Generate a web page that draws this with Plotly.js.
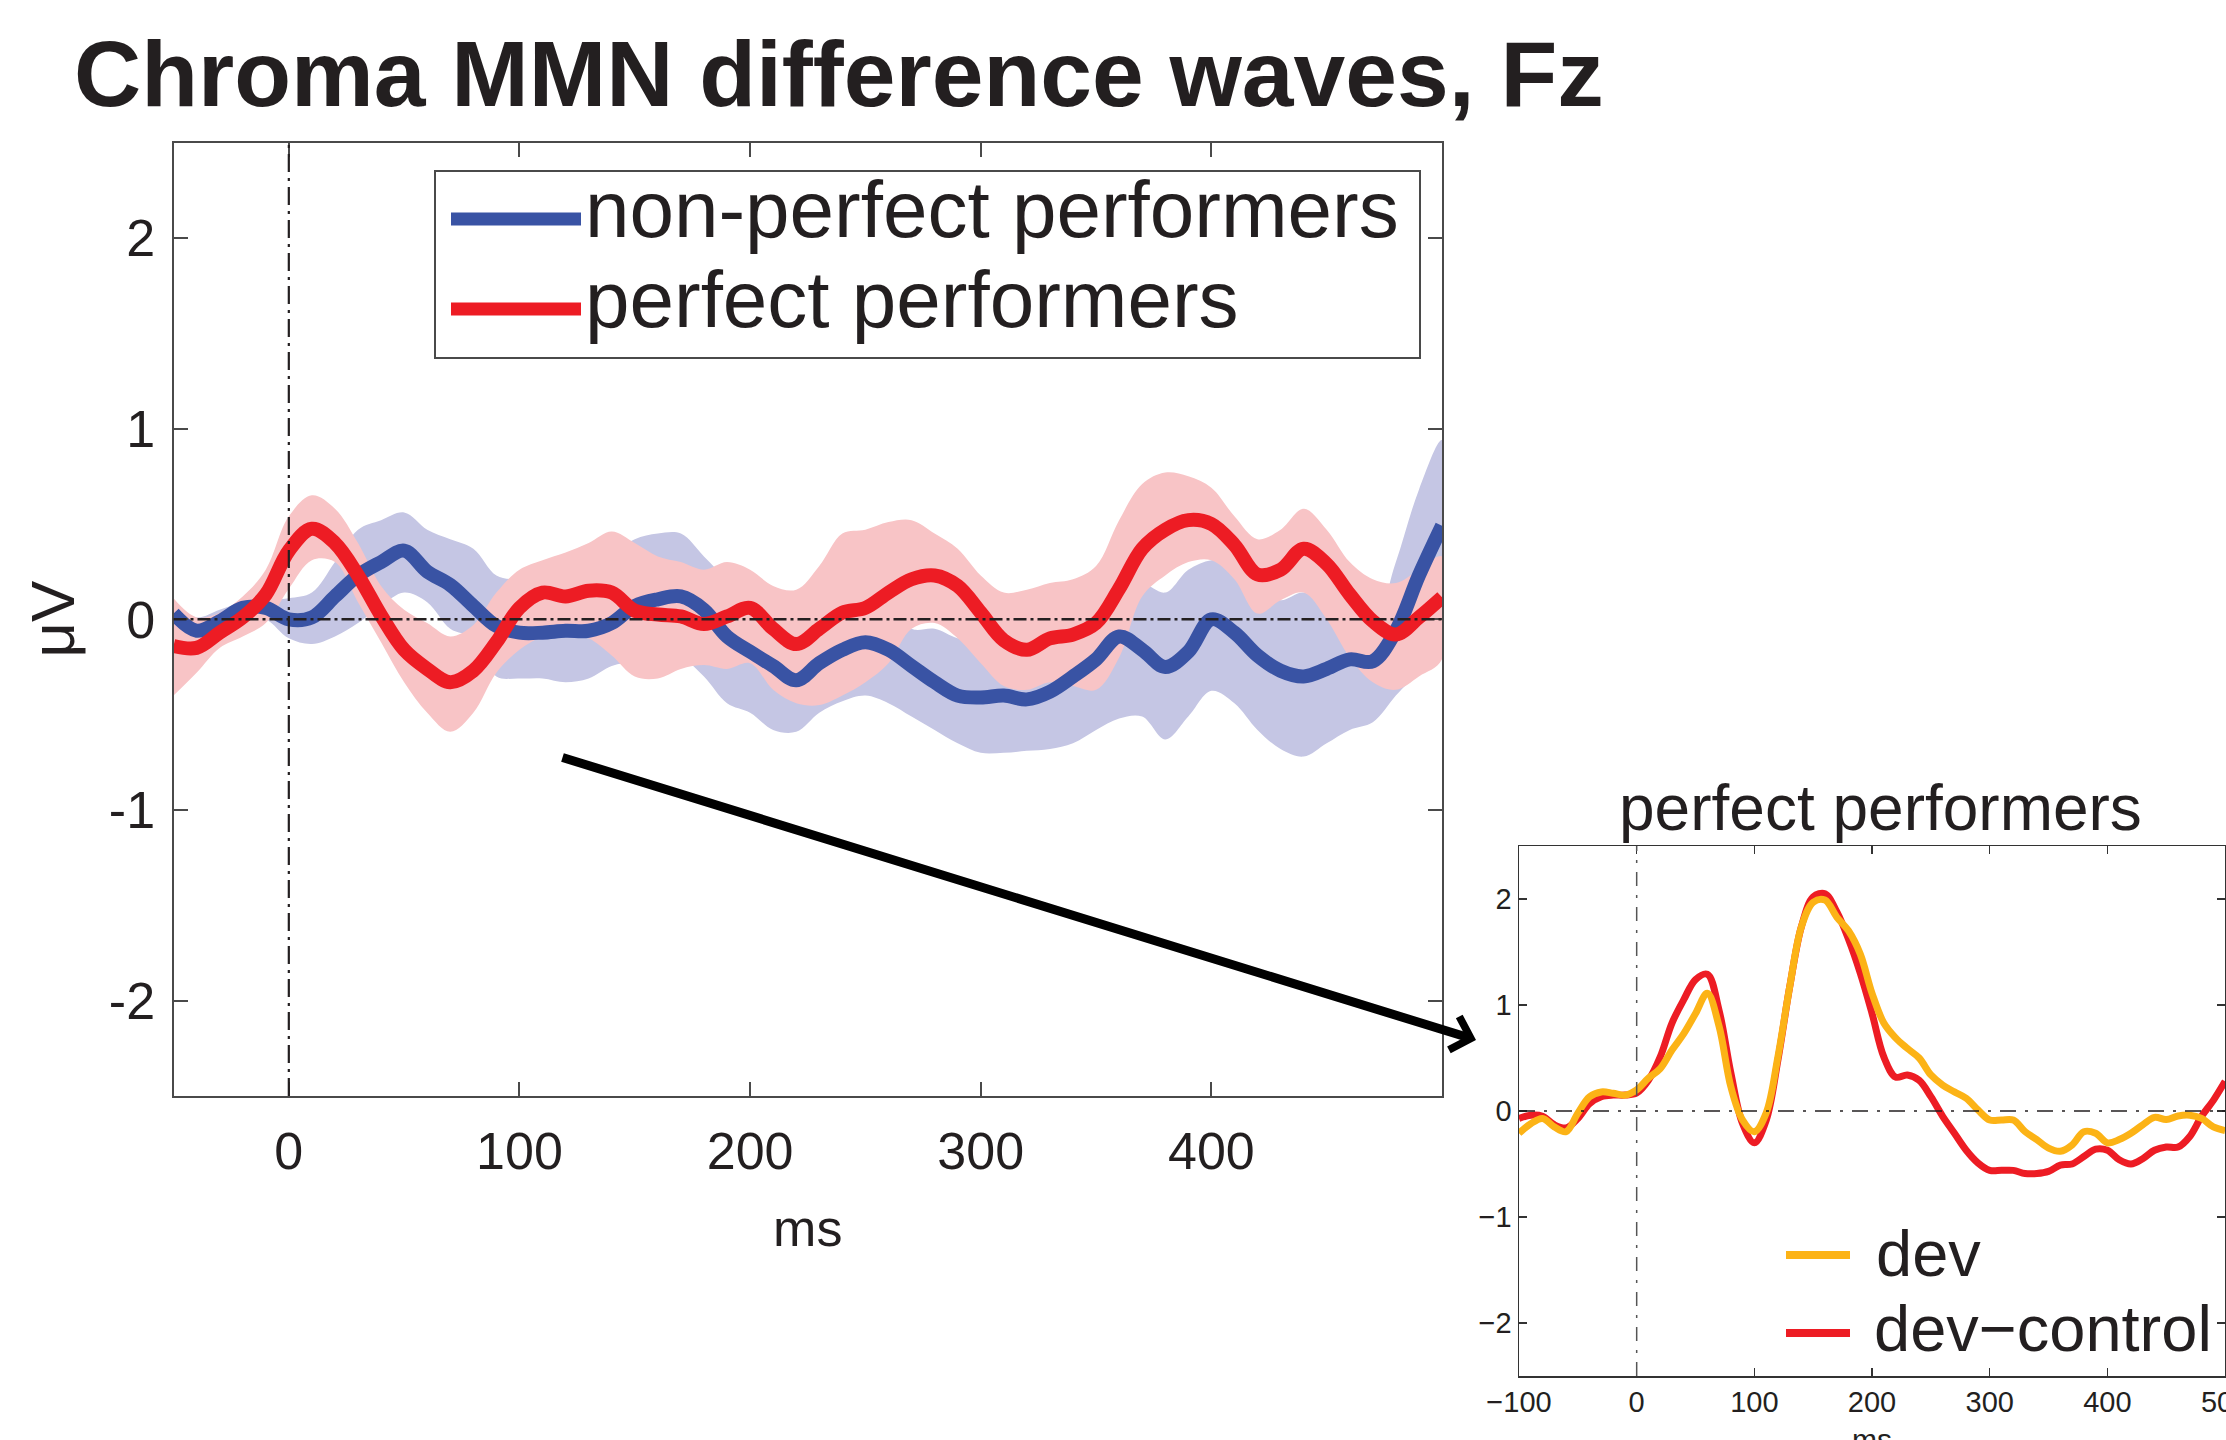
<!DOCTYPE html>
<html>
<head>
<meta charset="utf-8">
<script src="https://cdn.plot.ly/plotly-3.0.1.min.js"></script>
<style>html,body{margin:0;padding:0;background:#fff}#chart{width:2226px;height:1440px}</style>
</head>
<body>
<div id="chart"></div>
<script>
// ---------- main panel data (ms, µV) ----------
const timeMain = [-50,-40,-30,-20,-10,0,10,20,30,40,50,60,70,80,90,100,110,120,130,140,150,160,170,180,190,200,210,220,230,240,250,260,270,280,290,300,310,320,330,340,350,360,370,380,390,400,410,420,430,440,450,460,470,480,490,500];

const nonPerfectMean = [0.03,-0.06,-0.01,0.06,0.06,0.00,0.01,0.12,0.23,0.30,0.36,0.25,0.18,0.07,-0.035,-0.07,-0.07,-0.06,-0.06,-0.02,0.07,0.105,0.12,0.05,-0.09,-0.17,-0.245,-0.32,-0.23,-0.16,-0.12,-0.16,-0.245,-0.33,-0.40,-0.41,-0.40,-0.42,-0.38,-0.30,-0.21,-0.09,-0.16,-0.25,-0.17,0.00,-0.07,-0.19,-0.27,-0.30,-0.26,-0.21,-0.22,-0.06,0.23,0.49];
const nonPerfectUpper = [0.08,0.01,0.05,0.09,0.10,0.11,0.14,0.30,0.47,0.52,0.56,0.47,0.42,0.37,0.23,0.21,0.22,0.23,0.25,0.33,0.42,0.45,0.45,0.33,0.21,0.12,0.04,0.00,0.12,0.16,0.16,0.09,-0.05,-0.05,-0.10,-0.12,-0.13,-0.12,-0.06,0.00,0.09,0.175,0.19,0.14,0.26,0.31,0.30,0.16,0.10,0.14,0.05,-0.05,-0.03,0.30,0.68,0.94];
const nonPerfectLower = [-0.03,-0.10,-0.06,0.02,0.00,-0.10,-0.13,-0.09,-0.02,0.07,0.14,0.09,-0.05,-0.10,-0.30,-0.31,-0.31,-0.33,-0.31,-0.245,-0.22,-0.20,-0.20,-0.30,-0.44,-0.49,-0.58,-0.59,-0.49,-0.43,-0.40,-0.44,-0.51,-0.58,-0.65,-0.70,-0.70,-0.69,-0.68,-0.65,-0.58,-0.52,-0.51,-0.63,-0.51,-0.375,-0.44,-0.58,-0.68,-0.72,-0.65,-0.58,-0.54,-0.40,-0.26,0.02];

const perfectMean = [-0.14,-0.15,-0.07,0.01,0.13,0.36,0.475,0.40,0.23,0.02,-0.16,-0.26,-0.33,-0.27,-0.12,0.06,0.14,0.12,0.15,0.14,0.045,0.025,0.015,-0.025,0.015,0.06,-0.05,-0.13,-0.05,0.035,0.06,0.14,0.21,0.23,0.175,0.035,-0.11,-0.16,-0.10,-0.08,-0.02,0.16,0.37,0.47,0.52,0.50,0.39,0.235,0.26,0.37,0.29,0.13,-0.01,-0.08,0.01,0.115];
const perfectUpper = [0.11,0.01,0.035,0.12,0.26,0.54,0.65,0.58,0.40,0.175,0.05,-0.02,-0.09,-0.03,0.14,0.26,0.31,0.35,0.40,0.46,0.40,0.33,0.30,0.26,0.30,0.26,0.175,0.155,0.28,0.45,0.47,0.51,0.52,0.45,0.37,0.23,0.14,0.155,0.19,0.21,0.28,0.52,0.71,0.77,0.75,0.69,0.54,0.42,0.47,0.58,0.47,0.30,0.21,0.19,0.26,0.33];
const perfectLower = [-0.40,-0.28,-0.15,-0.09,-0.02,0.16,0.31,0.30,0.09,-0.12,-0.33,-0.49,-0.59,-0.49,-0.28,-0.16,-0.09,-0.07,-0.10,-0.19,-0.30,-0.31,-0.26,-0.24,-0.26,-0.23,-0.37,-0.44,-0.45,-0.40,-0.33,-0.23,-0.05,-0.02,-0.10,-0.23,-0.35,-0.37,-0.33,-0.35,-0.37,-0.20,0.12,0.23,0.30,0.31,0.21,0.03,0.10,0.14,0.00,-0.20,-0.33,-0.37,-0.30,-0.21];

// ---------- inset data (perfect performers) ----------
const timeInset = [-100,-90,-80,-70,-60,-50,-40,-30,-20,-10,0,10,20,30,40,50,60,70,80,90,100,110,120,130,140,150,160,170,180,190,200,210,220,230,240,250,260,270,280,290,300,310,320,330,340,350,360,370,380,390,400,410,420,430,440,450,460,470,480,490,500];
const devControlWave = [-0.07,-0.04,-0.05,-0.13,-0.16,-0.07,0.07,0.135,0.15,0.15,0.17,0.29,0.51,0.83,1.05,1.24,1.29,0.95,0.36,-0.12,-0.30,-0.09,0.48,1.17,1.74,2.02,2.05,1.88,1.62,1.30,0.92,0.51,0.32,0.34,0.29,0.135,-0.05,-0.21,-0.37,-0.49,-0.56,-0.56,-0.56,-0.59,-0.59,-0.57,-0.51,-0.50,-0.43,-0.36,-0.37,-0.46,-0.50,-0.45,-0.37,-0.34,-0.34,-0.24,-0.05,0.10,0.28];
const devWave = [-0.21,-0.12,-0.07,-0.15,-0.195,-0.02,0.135,0.18,0.167,0.15,0.20,0.31,0.40,0.575,0.73,0.92,1.11,0.80,0.23,-0.085,-0.195,-0.02,0.51,1.17,1.74,1.97,1.99,1.83,1.70,1.48,1.11,0.83,0.69,0.59,0.50,0.34,0.245,0.18,0.12,0.01,-0.085,-0.085,-0.085,-0.195,-0.27,-0.35,-0.38,-0.32,-0.195,-0.21,-0.30,-0.27,-0.21,-0.13,-0.06,-0.08,-0.047,-0.04,-0.07,-0.15,-0.185];

// ---------- ticks & labels ----------
const mainXTicks = [0,100,200,300,400];
const mainXTickText = ['0','100','200','300','400'];
const mainYTicks = [-2,-1,0,1,2];
const mainYTickText = ['-2','-1','0','1','2'];
const insetXTicks = [-100,0,100,200,300,400,500];
const insetXTickText = ['\u2212100','0','100','200','300','400','500'];
const insetYTicks = [-2,-1,0,1,2];
const insetYTickText = ['\u22122','\u22121','0','1','2'];

const seriesNames = ['non-perfect performers','perfect performers'];
const insetNames = ['dev','dev\u2212control'];

const FONT = '"Liberation Sans", Arial, Helvetica, sans-serif';
const INK = '#231f20';
const AXC = '#4a4a4a';
const BLUE = '#3953a4', RED = '#ed1c24', ORANGE = '#fcb316';
const BLUE_BAND = '#c5c6e4', RED_BAND = '#f8c4c6';

function bandXY(x, up, lo) {
  return {x: x.concat(x.slice().reverse()), y: up.concat(lo.slice().reverse())};
}
const bBand = bandXY(timeMain, nonPerfectUpper, nonPerfectLower);
const rBand = bandXY(timeMain, perfectUpper, perfectLower);

const traces = [
  {x: bBand.x, y: bBand.y, type:'scatter', mode:'lines', fill:'toself', fillcolor: BLUE_BAND,
   line:{width:0, shape:'spline', smoothing:1}, hoverinfo:'skip', showlegend:false, name: seriesNames[0]+' range'},
  {x: rBand.x, y: rBand.y, type:'scatter', mode:'lines', fill:'toself', fillcolor: RED_BAND,
   line:{width:0, shape:'spline', smoothing:1}, hoverinfo:'skip', showlegend:false, name: seriesNames[1]+' range'},
  {x: timeMain, y: nonPerfectMean, type:'scatter', mode:'lines', name: seriesNames[0],
   line:{color: BLUE, width:14, shape:'spline', smoothing:1}, showlegend:false},
  {x: timeMain, y: perfectMean, type:'scatter', mode:'lines', name: seriesNames[1],
   line:{color: RED, width:14, shape:'spline', smoothing:1}, showlegend:false},
  {x: timeInset, y: devControlWave, type:'scatter', mode:'lines', name: insetNames[1], xaxis:'x2', yaxis:'y2',
   line:{color: RED, width:7, shape:'spline', smoothing:1}, showlegend:false},
  {x: timeInset, y: devWave, type:'scatter', mode:'lines', name: insetNames[0], xaxis:'x2', yaxis:'y2',
   line:{color: ORANGE, width:7, shape:'spline', smoothing:1}, showlegend:false}
];

const W = 2226, H = 1440;
const px = v => v / W;          // horizontal pixel -> paper
const py = v => 1 - v / H;      // vertical pixel (from top) -> paper

const mainAxisCommon = {
  showgrid:false, zeroline:false, showline:true, linecolor:AXC, linewidth:2,
  mirror:'ticks', ticks:'inside', ticklen:14, tickwidth:2, tickcolor:AXC,
  tickfont:{family:FONT, size:52, color:INK}
};
const insetAxisCommon = {
  showgrid:false, zeroline:false, showline:true, linecolor:'#333', linewidth:1.5,
  mirror:'ticks', ticks:'inside', ticklen:8, tickwidth:1.5, tickcolor:'#333',
  tickfont:{family:FONT, size:29, color:INK}
};

const layout = {
  width: W, height: H,
  margin:{l:0, r:0, t:0, b:0},
  paper_bgcolor:'#ffffff', plot_bgcolor:'rgba(0,0,0,0)',
  showlegend:false,
  font:{family:FONT, color:INK},
  title:{text:'<b>Chroma MMN difference waves, Fz</b>', font:{family:FONT, size:93, color:INK},
         xref:'container', x: px(74), xanchor:'left', yref:'container', y: py(41), yanchor:'top'},
  xaxis: Object.assign({}, mainAxisCommon, {
    domain:[px(173.5), px(1442)], range:[-50, 500], anchor:'y',
    tickvals: mainXTicks, ticktext: mainXTickText, ticklabelstandoff: 9,
    title:{text:'ms', font:{family:FONT, size:52, color:INK}, standoff: 30}
  }),
  yaxis: Object.assign({}, mainAxisCommon, {
    domain:[py(1096), py(142.6)], range:[-2.5, 2.5], anchor:'x',
    tickvals: mainYTicks, ticktext: mainYTickText, ticklabelstandoff: 6,
    title:{text:'\u03bcV', font:{family:FONT, size:62, color:INK}, standoff: 14}
  }),
  xaxis2: Object.assign({}, insetAxisCommon, {
    domain:[px(1519), 0.9996], range:[-100, 500], anchor:'y2',
    tickvals: insetXTicks, ticktext: insetXTickText, ticklabelstandoff: 0,
    ticklabeloverflow:'allow'
  }),
  yaxis2: Object.assign({}, insetAxisCommon, {
    domain:[py(1376), py(846)], range:[-2.5, 2.5], anchor:'x2',
    tickvals: insetYTicks, ticktext: insetYTickText
  }),
  shapes: [
    // reference lines, main panel
    {type:'line', xref:'x', yref:'y domain', x0:0, x1:0, y0:0, y1:1, layer:'above',
     line:{color:INK, width:2.2, dash:'18px,6px,3px,6px'}},
    {type:'line', xref:'x domain', yref:'y', x0:0, x1:1, y0:0, y1:0, layer:'above',
     line:{color:INK, width:2.5, dash:'13px,4px,3px,4px'}},
    // reference lines, inset
    {type:'line', xref:'x2', yref:'y2 domain', x0:0, x1:0, y0:0, y1:1, layer:'above',
     line:{color:'#555', width:1.5, dash:'14px,9px,3px,9px'}},
    {type:'line', xref:'x2 domain', yref:'y2', x0:0, x1:1, y0:0, y1:0, layer:'above',
     line:{color:INK, width:1.5, dash:'16px,9px,3px,9px'}},
    // main legend box + samples
    {type:'rect', xref:'paper', yref:'paper', x0:px(435), x1:px(1420), y0:py(358), y1:py(171),
     line:{color:AXC, width:2}, fillcolor:'#ffffff', layer:'above'},
    {type:'line', xref:'paper', yref:'paper', x0:px(451), x1:px(581), y0:py(219), y1:py(219),
     line:{color:BLUE, width:13}, layer:'above'},
    {type:'line', xref:'paper', yref:'paper', x0:px(451), x1:px(581), y0:py(309), y1:py(309),
     line:{color:RED, width:13}, layer:'above'},
    // inset legend samples
    {type:'line', xref:'paper', yref:'paper', x0:px(1786), x1:px(1850), y0:py(1255), y1:py(1255),
     line:{color:ORANGE, width:8}, layer:'above'},
    {type:'line', xref:'paper', yref:'paper', x0:px(1786), x1:px(1850), y0:py(1333), y1:py(1333),
     line:{color:RED, width:8}, layer:'above'}
  ],
  annotations: [
    {xref:'paper', yref:'paper', x:px(583), y:py(209), xanchor:'left', yanchor:'middle', showarrow:false,
     text: seriesNames[0], font:{family:FONT, size:80, color:INK}},
    {xref:'paper', yref:'paper', x:px(583), y:py(299), xanchor:'left', yanchor:'middle', showarrow:false,
     text: seriesNames[1], font:{family:FONT, size:80, color:INK}},
    {xref:'paper', yref:'paper', x:px(1874), y:py(1253), xanchor:'left', yanchor:'middle', showarrow:false,
     text: insetNames[0], font:{family:FONT, size:65, color:INK}},
    {xref:'paper', yref:'paper', x:px(1872), y:py(1328), xanchor:'left', yanchor:'middle', showarrow:false,
     text: insetNames[1], font:{family:FONT, size:65, color:INK}},
    {xref:'paper', yref:'paper', x:px(1880), y:py(808), xanchor:'center', yanchor:'middle', showarrow:false,
     text: 'perfect performers', font:{family:FONT, size:64, color:INK}},
    // inset x-axis title (falls mostly below the picture edge, as in the reference)
    {xref:'x2 domain', yref:'paper', x:0.5, y:py(1421), xanchor:'center', yanchor:'top', showarrow:false,
     text: 'ms', font:{family:FONT, size:30, color:INK}},
    // arrow from main panel to inset
    {xref:'paper', yref:'paper', x:px(1476), y:py(1040), axref:'pixel', ayref:'pixel', ax:-915, ay:-283,
     showarrow:true, arrowhead:4, arrowsize:0.75, arrowwidth:9, arrowcolor:'#000', standoff:0,
     text:' ', font:{size:1}}
  ]
};

Plotly.newPlot('chart', traces, layout, {displayModeBar:false, responsive:false, staticPlot:true});
</script>
</body>
</html>
